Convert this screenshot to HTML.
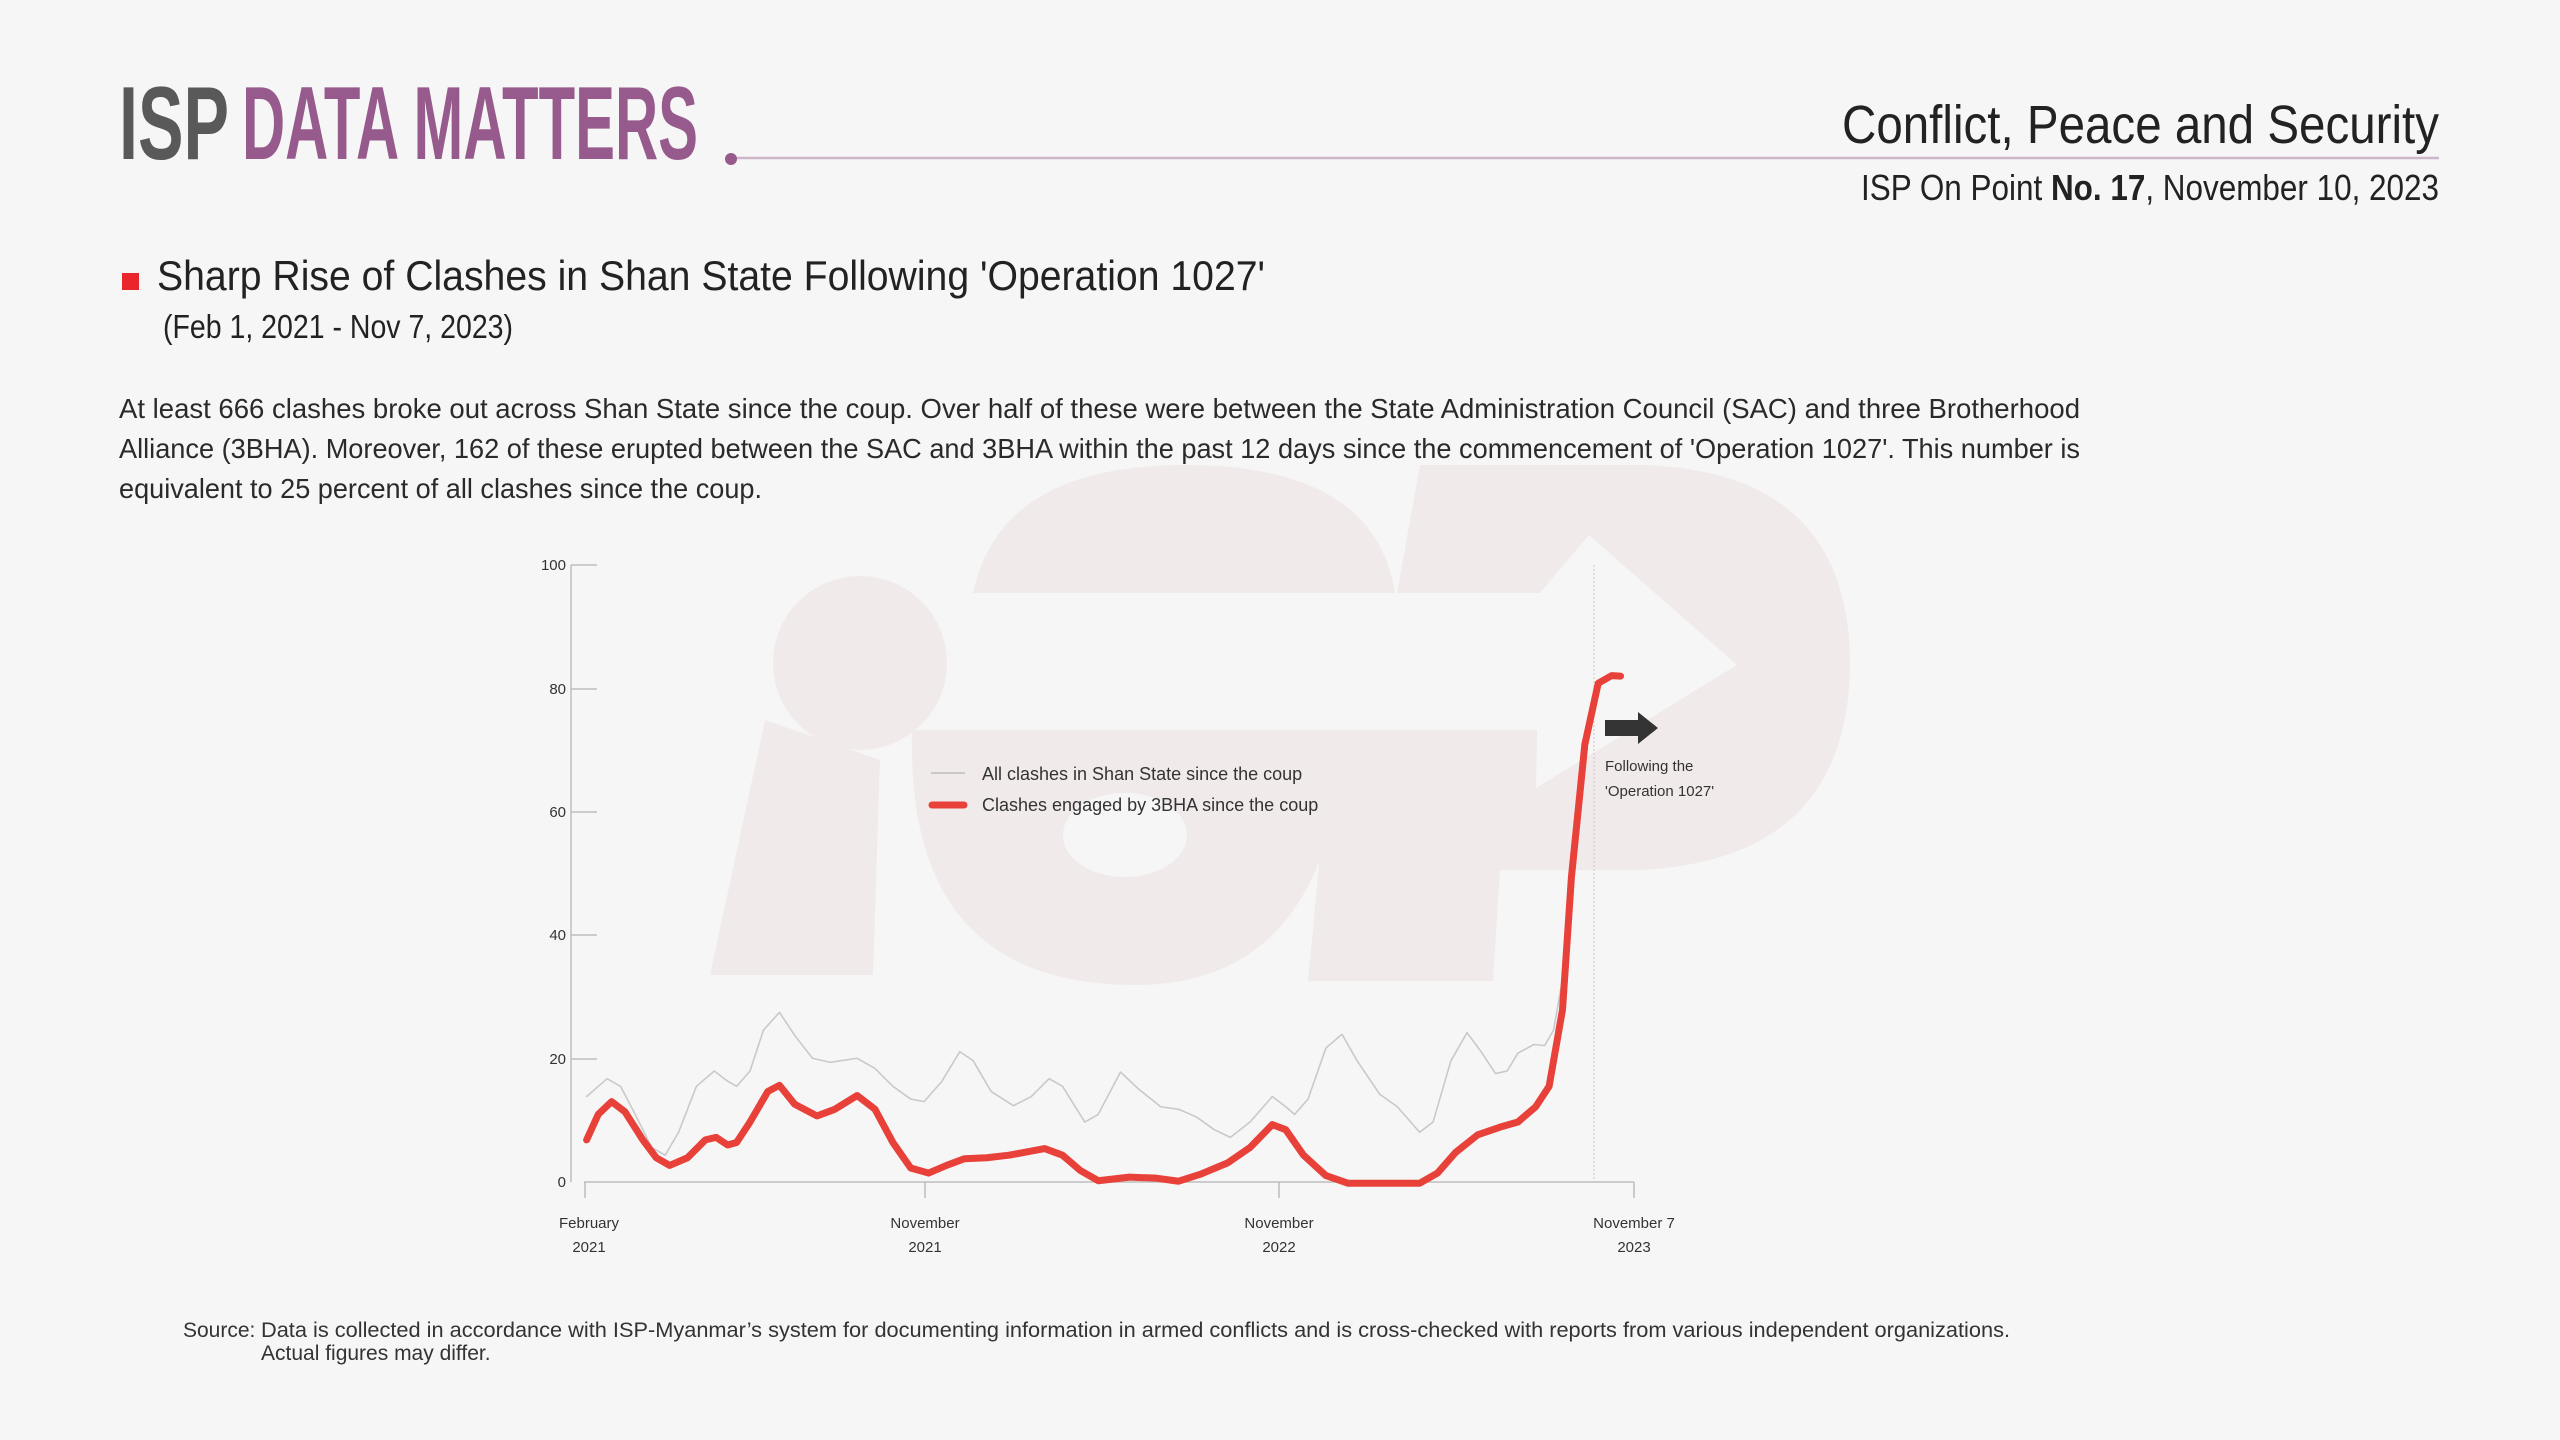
<!DOCTYPE html>
<html><head><meta charset="utf-8"><style>
html,body{margin:0;padding:0;background:#f6f6f6;}
svg{display:block}
text{font-family:"Liberation Sans",sans-serif;}
</style></head><body>
<svg width="2560" height="1440" viewBox="0 0 2560 1440" xmlns="http://www.w3.org/2000/svg">
<rect width="2560" height="1440" fill="#f6f6f6"/>
<!-- watermark -->
<g fill="#f1eaeb">
<circle cx="860" cy="663" r="87"/>
<polygon points="765,720 880,760 873,975 710,975"/>
<path d="M973,593 Q1000,465 1185,465 Q1375,465 1395,593 Z"/>
<path d="M1397,593 L1420,465 L1640,465 Q1850,470 1850,665 Q1848,860 1640,870 L1500,870 L1493,981 L1308,981 L1345,593 Z"/>
<path d="M912,730 Q905,985 1135,985 Q1330,985 1345,730 Z"/>
</g>
<g fill="#f6f6f6">
<rect x="973" y="593" width="567" height="137"/>
<polygon points="1589,535 1737,665 1536,788 1540,593"/>
<ellipse cx="1125" cy="835" rx="62" ry="42"/>
</g>
<!-- header -->
<text x="119" y="159" font-family="Liberation Sans Narrow, Liberation Sans, sans-serif" font-weight="bold" font-size="104" fill="#595959" textLength="110" lengthAdjust="spacingAndGlyphs">ISP</text>
<text x="242" y="159" font-family="Liberation Sans Narrow, Liberation Sans, sans-serif" font-weight="bold" font-size="104" fill="#975a8c" textLength="456" lengthAdjust="spacingAndGlyphs">DATA MATTERS</text>
<line x1="731" y1="158" x2="2439" y2="158" stroke="#cdb5ca" stroke-width="2.5"/>
<circle cx="731" cy="159" r="6" fill="#975a8c"/>
<text x="2439" y="143" text-anchor="end" font-size="54" fill="#222" textLength="597" lengthAdjust="spacingAndGlyphs">Conflict, Peace and Security</text>
<text x="2439" y="200" text-anchor="end" font-size="36" fill="#222" textLength="578" lengthAdjust="spacingAndGlyphs">ISP On Point <tspan font-weight="bold">No. 17</tspan>, November 10, 2023</text>
<rect x="122" y="273" width="17" height="17" fill="#e8262b"/>
<text x="157" y="290" font-size="42" fill="#222" textLength="1108" lengthAdjust="spacingAndGlyphs">Sharp Rise of Clashes in Shan State Following 'Operation 1027'</text>
<text x="163" y="338" font-size="33" fill="#222" textLength="350" lengthAdjust="spacingAndGlyphs">(Feb 1, 2021 - Nov 7, 2023)</text>
<g font-size="28" fill="#2a2a2a">
<text x="119" y="418" textLength="1961" lengthAdjust="spacingAndGlyphs">At least 666 clashes broke out across Shan State since the coup. Over half of these were between the State Administration Council (SAC) and three Brotherhood</text>
<text x="119" y="458" textLength="1961" lengthAdjust="spacingAndGlyphs">Alliance (3BHA). Moreover, 162 of these erupted between the SAC and 3BHA within the past 12 days since the commencement of 'Operation 1027'. This number is</text>
<text x="119" y="498" textLength="643" lengthAdjust="spacingAndGlyphs">equivalent to 25 percent of all clashes since the coup.</text>
</g>
<!-- axes -->
<g stroke="#bdbdbd" stroke-width="1.5">
<line x1="571" y1="565" x2="571" y2="1182"/>
<line x1="571" y1="565" x2="597" y2="565"/>
<line x1="571" y1="689" x2="597" y2="689"/>
<line x1="571" y1="812" x2="597" y2="812"/>
<line x1="571" y1="935" x2="597" y2="935"/>
<line x1="571" y1="1059" x2="597" y2="1059"/>
<line x1="584" y1="1182" x2="1634" y2="1182"/>
<line x1="585" y1="1182" x2="585" y2="1198"/>
<line x1="925" y1="1182" x2="925" y2="1198"/>
<line x1="1279" y1="1182" x2="1279" y2="1198"/>
<line x1="1634" y1="1182" x2="1634" y2="1198"/>
</g>
<line x1="1594" y1="565" x2="1594" y2="1182" stroke="#c8c8c8" stroke-width="1" stroke-dasharray="2,2"/>
<g font-size="15" fill="#333" text-anchor="end">
<text x="566" y="570">100</text><text x="566" y="694">80</text><text x="566" y="817">60</text>
<text x="566" y="940">40</text><text x="566" y="1064">20</text><text x="566" y="1187">0</text>
</g>
<g font-size="15" fill="#333" text-anchor="middle">
<text x="589" y="1228">February</text><text x="589" y="1252">2021</text>
<text x="925" y="1228">November</text><text x="925" y="1252">2021</text>
<text x="1279" y="1228">November</text><text x="1279" y="1252">2022</text>
<text x="1634" y="1228">November 7</text><text x="1634" y="1252">2023</text>
</g>
<!-- series -->
<g transform="translate(500,520) scale(0.892857,0.510204)" fill="none" stroke-linejoin="round" stroke-linecap="round">
<polyline vector-effect="non-scaling-stroke" stroke="#c9c9c9" stroke-width="1.6" points="97,1130 120,1095 135,1110 150,1160 170,1230 185,1245 200,1200 220,1110 240,1080 255,1100 265,1110 280,1080 295,1000 313,965 330,1010 350,1055 370,1063 400,1055 420,1075 440,1110 460,1135 475,1140 495,1100 515,1042 530,1060 550,1120 575,1148 595,1130 615,1095 630,1110 655,1180 670,1165 695,1082 715,1115 740,1150 760,1155 780,1170 800,1195 818,1210 840,1180 865,1130 880,1150 890,1165 905,1135 925,1035 943,1008 960,1060 985,1125 1005,1150 1030,1200 1045,1180 1065,1060 1083,1005 1098,1040 1115,1085 1128,1080 1140,1045 1158,1028 1170,1030 1180,1000 1190,900 1200,700 1215,440 1230,320 1245,302 1255,306"/>
<polyline vector-effect="non-scaling-stroke" stroke="#e8413a" stroke-width="7" points="97,1215 110,1165 125,1140 140,1160 160,1215 175,1250 190,1265 210,1250 230,1215 242,1210 255,1225 265,1220 280,1180 300,1120 313,1108 330,1145 355,1168 375,1155 400,1128 420,1155 440,1220 460,1270 480,1280 500,1265 520,1252 545,1250 570,1245 610,1232 630,1245 650,1275 670,1295 705,1288 735,1290 760,1296 785,1282 815,1260 840,1230 865,1185 880,1195 900,1245 925,1285 950,1300 1030,1300 1050,1280 1070,1240 1095,1205 1120,1190 1140,1180 1160,1150 1175,1110 1190,960 1200,700 1215,440 1230,320 1245,305 1255,306"/>
</g>
<!-- legend -->
<line x1="931" y1="773" x2="965" y2="773" stroke="#c9c9c9" stroke-width="2"/>
<line x1="932" y1="805" x2="964" y2="805" stroke="#e8413a" stroke-width="7" stroke-linecap="round"/>
<g font-size="18" fill="#333">
<text x="982" y="780">All clashes in Shan State since the coup</text>
<text x="982" y="811">Clashes engaged by 3BHA since the coup</text>
</g>
<!-- annotation -->
<polygon points="1605,720 1638,720 1638,712 1658,728 1638,744 1638,736 1605,736" fill="#333"/>
<g font-size="15" fill="#333">
<text x="1605" y="771">Following the</text>
<text x="1605" y="796">'Operation 1027'</text>
</g>
<!-- source -->
<g font-size="21" fill="#333">
<text x="183" y="1337">Source:</text>
<text x="261" y="1337" textLength="1749" lengthAdjust="spacingAndGlyphs">Data is collected in accordance with ISP-Myanmar’s system for documenting information in armed conflicts and is cross-checked with reports from various independent organizations.</text>
<text x="261" y="1360">Actual figures may differ.</text>
</g>
</svg>
</body></html>
